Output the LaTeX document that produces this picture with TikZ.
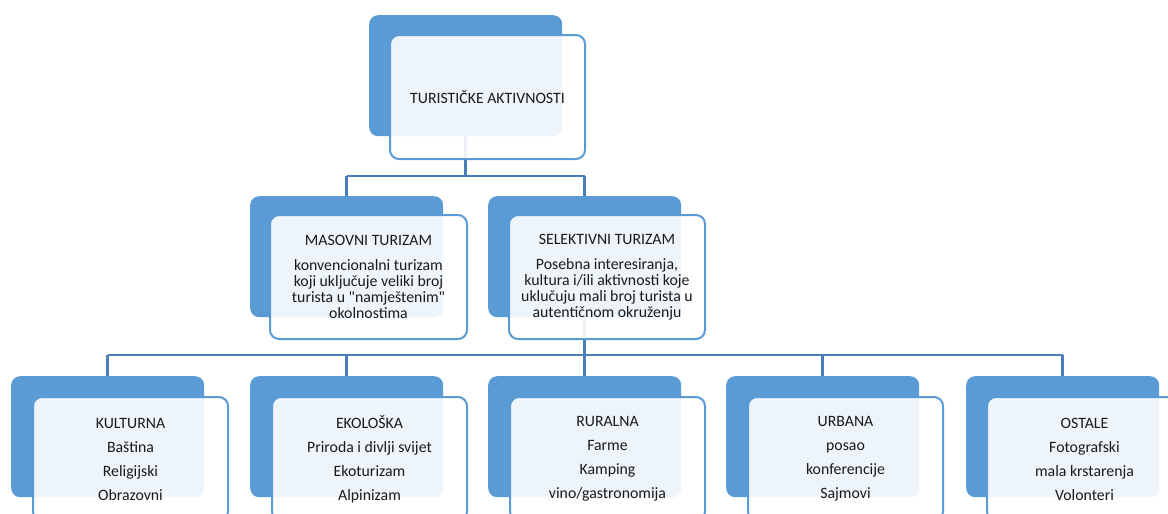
\documentclass[tikz,border=0pt]{standalone}
\usepackage{fontspec}
\setmainfont{Carlito}[Ligatures=TeXOff]
\definecolor{accent}{HTML}{5B9BD5}
\definecolor{conn}{HTML}{4A7EBB}
\definecolor{txt}{HTML}{1A1A1A}
\begin{document}
\begin{tikzpicture}[x=1pt,y=-1pt,
  backbox/.style={fill=accent,draw=none,rounded corners=9pt,anchor=north west,inner sep=0pt,minimum width=193pt,minimum height=121pt},
  frontbox/.style={fill=white,fill opacity=0.9,text opacity=1,draw=accent,line width=2pt,rounded corners=9pt,anchor=north west,inner sep=0pt,minimum width=195pt,minimum height=124pt,align=center,text=txt,font=\fontsize{15.8}{16}\selectfont},
  link/.style={draw=conn,line width=2.6pt}]
\useasboundingbox (0,0) rectangle (1168,514);
\clip (0,0) rectangle (1168,514);
% back boxes
\node[backbox] (topb) at (369,15) {};
\node[backbox] (masb) at (250,196) {};
\node[backbox] (selb) at (488,196) {};
\node[backbox] (kulb) at (11,376) {};
\node[backbox] (ekob) at (250,376) {};
\node[backbox] (rurb) at (488,376) {};
\node[backbox] (urbb) at (726,376) {};
\node[backbox] (ostb) at (966,376) {};
% connectors
\coordinate (bus1) at (0,176);
\coordinate (bus2) at (0,355);
\draw[link] (topb.south) -- (topb.south |- bus1);
\draw[link] (masb.north |- bus1) -- (selb.north |- bus1);
\draw[link] (masb.north |- bus1) -- (masb.north);
\draw[link] (selb.north |- bus1) -- (selb.north);
\draw[link] (selb.south) -- (selb.south |- bus2);
\draw[link] (kulb.north |- bus2) -- (ostb.north |- bus2);
\foreach \n in {kulb,ekob,rurb,urbb,ostb} {\draw[link] (\n.north |- bus2) -- (\n.north);}
% front boxes
\node[frontbox] (topf) at (389,34) {TURISTIČKE AKTIVNOSTI};
\node[frontbox,minimum width=197pt] (masf) at (269,214) {MASOVNI TURIZAM\\[9pt]konvencionalni turizam\\koji uključuje veliki broj\\turista u "namještenim"\\okolnostima};
\node[frontbox,minimum width=196pt] (self) at (508,214) {SELEKTIVNI TURIZAM\\[9pt]Posebna interesiranja,\\kultura i/ili aktivnosti koje\\uklučuju mali broj turista u\\autentičnom okruženju};
\node[frontbox] (kulf) at (32,396) {KULTURNA\\[8pt]Baština\\[8pt]Religijski\\[8pt]Obrazovni};
\node[frontbox] (ekof) at (271,396) {EKOLOŠKA\\[8pt]Priroda i divlji svijet\\[8pt]Ekoturizam\\[8pt]Alpinizam};
\node[frontbox] (rurf) at (509,396) {RURALNA\\[8pt]Farme\\[8pt]Kamping\\[8pt]vino/gastronomija};
\node[frontbox] (urbf) at (747,396) {URBANA\\[8pt]posao\\[8pt]konferencije\\[8pt]Sajmovi};
\node[frontbox] (ostf) at (986,396) {OSTALE\\[8pt]Fotografski\\[8pt]mala krstarenja\\[8pt]Volonteri};
\end{tikzpicture}
\end{document}
